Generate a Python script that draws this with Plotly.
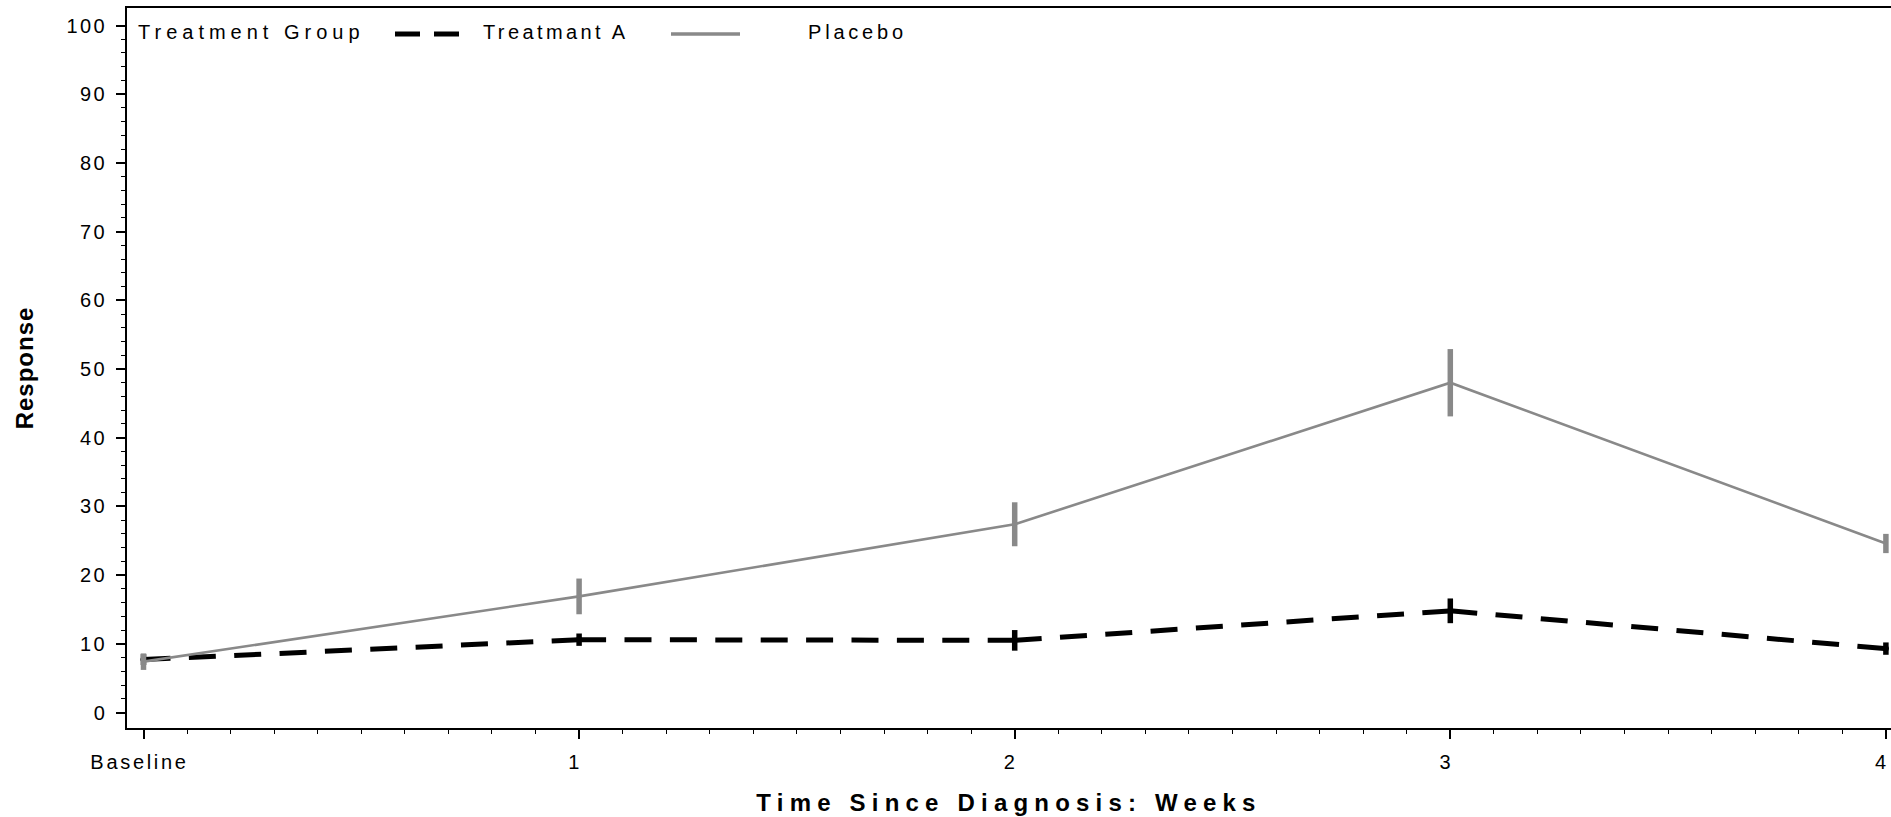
import plotly.graph_objects as go
import numpy as np

# ---- data ----
weeks = [0, 1, 2, 3, 4]
week_labels = ["Baseline", "1", "2", "3", "4"]
treat_a_mean = [7.7, 10.6, 10.5, 14.8, 9.3]
treat_a_err = [0.8, 0.9, 1.5, 1.8, 0.9]
placebo_mean = [7.4, 16.9, 27.4, 48.0, 24.6]
placebo_err = [1.2, 2.6, 3.2, 4.9, 1.4]
y_tick_vals = list(range(0, 101, 10))
legend_title = "Treatment Group"
series_names = ["Treatmant A", "Placebo"]

# ---- layout geometry ----
W, H = 1891, 817
L, R, T, B = 127, 0, 8, 89
PW, PH = W - L - R, H - T - B
FONT = "Liberation Sans, Arial, Helvetica, sans-serif"
BLACK = "#000000"
GRAY = "#898989"


def sp(text, s):
    return f'<span style="letter-spacing:{s}px">{text}</span>'


def px_x(p):
    return (p - L) / PW


def px_y(p):
    return (H - B - p) / PH


fig = go.Figure()

# Treatment A: dashed line, pattern restarted on every segment
for i in range(len(weeks) - 1):
    fig.add_trace(go.Scatter(
        x=weeks[i:i + 2], y=treat_a_mean[i:i + 2], mode="lines",
        line=dict(color=BLACK, width=5, dash="27px,18.4px"),
        showlegend=False, hoverinfo="skip", name=series_names[0]))
fig.add_trace(go.Scatter(
    x=weeks, y=treat_a_mean, mode="markers", name=series_names[0],
    marker=dict(size=0, color=BLACK),
    error_y=dict(type="data", array=treat_a_err, symmetric=True,
                 width=0, thickness=5.5, color=BLACK),
    showlegend=False))

# Placebo: solid gray line
fig.add_trace(go.Scatter(
    x=weeks, y=placebo_mean, mode="lines", name=series_names[1],
    line=dict(color=GRAY, width=2.6),
    error_y=dict(type="data", array=placebo_err, symmetric=True,
                 width=0, thickness=5.5, color=GRAY),
    showlegend=False))

# ---- legend (drawn as a header row) ----
legend_y = px_y(34)
fig.add_shape(type="line", xref="paper", yref="paper",
              x0=px_x(395), x1=px_x(459), y0=legend_y, y1=legend_y,
              line=dict(color=BLACK, width=5, dash="25px,14px"))
fig.add_shape(type="line", xref="paper", yref="paper",
              x0=px_x(671), x1=px_x(740), y0=legend_y, y1=legend_y,
              line=dict(color=GRAY, width=3.5))
for txt, xp, s in [(legend_title, 136, 5), (series_names[0], 481, 3.4),
                   (series_names[1], 806, 3.8)]:
    fig.add_annotation(text=sp(txt, s), xref="paper", yref="paper",
                       x=px_x(xp), y=px_y(32), xanchor="left", yanchor="middle",
                       showarrow=False, font=dict(family=FONT, size=20, color=BLACK))

px_per_week = 435.6
x0 = -(143.5 - L) / px_per_week
x1 = x0 + PW / px_per_week
px_per_unit = 6.87
y0 = -(H - B - 712.5) / px_per_unit
y1 = y0 + PH / px_per_unit

fig.update_layout(
    width=W, height=H, template="none",
    margin=dict(l=L, r=R, t=T, b=B, pad=0),
    paper_bgcolor="white", plot_bgcolor="white",
    font=dict(family=FONT, size=20, color=BLACK),
    showlegend=False,
    xaxis=dict(
        range=[x0, x1], tickmode="array", tickvals=weeks,
        ticktext=[sp(t, 2.7) for t in week_labels],
        showline=True, linecolor=BLACK, linewidth=1.5, mirror=True,
        ticks="outside", ticklen=9, tickwidth=1.5, tickcolor=BLACK,
        ticklabelstandoff=6, ticklabelshift=-4, ticklabeloverflow="allow",
        minor=dict(dtick=0.1, tick0=0, ticks="outside", ticklen=4,
                   tickwidth=1.2, tickcolor=BLACK, showgrid=False),
        showgrid=False, zeroline=False, automargin=False,
        tickfont=dict(family=FONT, size=20, color=BLACK),
        title=dict(text=sp("Time Since Diagnosis: Weeks", 6.2), standoff=22,
                   font=dict(family=FONT, size=24, color=BLACK, weight="bold")),
    ),
    yaxis=dict(
        range=[y0, y1], tickmode="array", tickvals=y_tick_vals,
        ticktext=[sp(str(v), 2.5) for v in y_tick_vals],
        showline=True, linecolor=BLACK, linewidth=1.5, mirror=False,
        ticks="outside", ticklen=9, tickwidth=1.5, tickcolor=BLACK,
        ticklabelstandoff=5,
        minor=dict(tickmode="array", tickvals=list(np.arange(0, 101, 2)),
                   ticks="outside", ticklen=4, tickwidth=1.2, tickcolor=BLACK,
                   showgrid=False),
        showgrid=False, zeroline=False, automargin=False,
        tickfont=dict(family=FONT, size=20, color=BLACK),
        title=dict(text=sp("Response", 1), standoff=26,
                   font=dict(family=FONT, size=24, color=BLACK, weight="bold")),
    ),
)

fig.write_html("out.html")
